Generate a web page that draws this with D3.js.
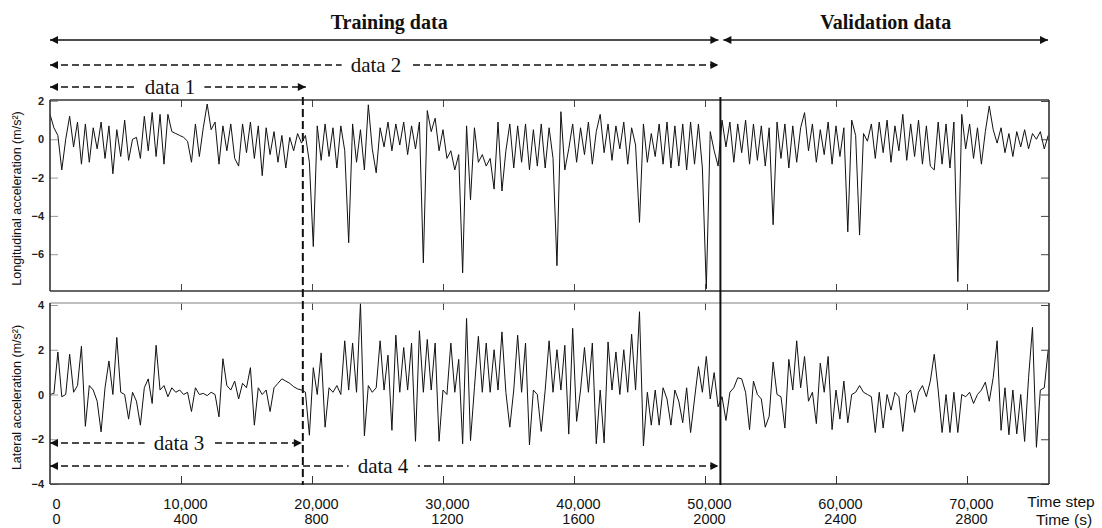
<!DOCTYPE html>
<html>
<head>
<meta charset="utf-8">
<script src="https://cdn.jsdelivr.net/npm/d3@7"></script>
<style>
  body { margin: 0; background: #fff; }
  svg { display: block; }
</style>
</head>
<body>
<div id="chart"></div>
<script>
var width = 1102, height = 528;

// sampling of the two signals (time steps between two values)
var sampleStep = 300;
var secondsPerStep = 0.04;

var stepDomain = [0, 76260];
var stepTicks = [0, 10000, 20000, 30000, 40000, 50000, 60000, 70000];
var longTicks = [2, 0, -2, -4, -6];
var latTicks = [4, 2, 0, -2, -4];

// split points (time step)
var splitData1 = 19300;
var splitTrain = 51100;

var segments = [
  { label: 'data 1', from: 0, to: splitData1 },
  { label: 'data 2', from: 0, to: splitTrain },
  { label: 'data 3', from: 0, to: splitData1 },
  { label: 'data 4', from: 0, to: splitTrain }
];

// longitudinal acceleration (m/s2), one value every sampleStep
var longAcc = [
  1.3, 0.6, 0.2, -1.6, 0.0, 1.2, -0.4, 0.9, -1.3, 0.8, -1.2, 0.6, -0.5, 0.9, -1.0,
  0.7, -1.8, 0.5, -0.9, 1.0, -1.1, 0.0, 0.1, -1.0, 1.2, -0.6, 1.4, -0.9, 1.3, -1.3,
  1.3, 0.4, 0.3, 0.2, 0.1, -0.1, -1.2, 0.8, -0.9, 0.6, 1.84, 0.5, 0.9, -1.3, 0.7,
  -0.6, 0.8, -1.0, -1.4, 0.8, -0.7, 0.9, -1.0, 0.7, -1.9, 0.6, -0.8, 0.4, -1.2, 0.2,
  -1.5, 0.1, -0.6, 0.3, -0.2, 0.2, -1.2, -5.6, 0.7, -1.1, 0.8, -0.9, 0.6, -1.5, 0.7,
  -0.6, -5.4, 0.8, -1.2, 0.5, -1.6, 1.8, -0.5, -1.75, 0.6, -0.4, 0.9, -0.6, 0.8, -0.3,
  0.9, -0.8, 0.7, -0.5, 0.9, -6.45, 1.5, 0.4, 1.1, -0.6, 0.5, -1.0, -0.6, -1.6, -0.8,
  -6.97, 0.7, -3.16, 0.6, -1.2, -0.8, -1.4, -1.0, -2.6, 0.9, -2.7, -0.6, 0.8, -1.5, 0.7,
  -1.2, 0.8, -1.6, 0.5, -1.4, 0.8, -1.5, 0.6, -1.0, -6.6, 1.44, -1.6, -0.5, 0.8, -1.2,
  0.6, -0.8, 0.9, -1.3, 0.4, 1.3, -0.7, 0.8, -1.1, 0.7, -0.5, 0.9, -1.3, 0.6, -0.3,
  -4.34, 0.8, -1.2, 0.3, -0.9, 0.8, -1.3, 0.9, -1.5, 0.7, -1.4, 0.8, -1.6, 0.9, -1.3,
  0.8, -1.5, -7.8, 0.4, -0.6, -1.4, 1.0, -0.4, 0.9, -1.2, 0.8, -0.7, 1.0, -1.3, 0.8,
  -1.1, 0.7, -1.4, 0.6, -4.46, 0.9, -1.0, 0.8, -1.5, 0.7, -1.2, 0.6, 1.39, -0.6, 0.8,
  -1.2, 0.5, -0.8, 0.9, -1.3, 0.7, -0.9, 0.6, -4.83, 1.0, 0.2, -5.0, 0.3, -0.1, 0.8,
  -1.0, 0.9, -0.7, 1.0, -1.2, 0.7, -0.6, 1.3, -1.1, 0.8, -0.9, 1.0, -1.3, 0.7, -1.4,
  -1.6, 0.9, -1.3, 0.8, -1.5, 0.9, -7.43, 1.3, -0.5, 0.8, -1.0, 0.6, -1.3, 0.4, 1.73,
  0.5, -0.2, 0.6, -0.7, 0.3, -0.9, 0.4, -0.4, 0.5, -0.5, 0.3, 0.0, 0.4, -0.5, 0.2
];

// lateral acceleration (m/s2), one value every sampleStep
var latAcc = [
  0.0, 0.05, 1.9, -0.1, 0.0, 1.8, 0.1, 0.4, 2.16, -1.42, 0.4, 0.2, -0.3, -1.67, 0.3,
  1.5, 0.0, 2.55, 0.1, 0.0, -1.1, 0.1, -0.3, -1.37, 0.3, 0.7, -0.4, 2.2, 0.2, 0.4,
  -0.1, 0.3, 0.1, 0.2, 0.0, 0.1, -0.76, 0.3, 0.0, 0.05, -0.05, 0.1, 0.0, -1.0, 1.6,
  0.4, 0.2, 0.6, -0.2, 0.5, 0.3, 1.2, -1.37, 0.3, 0.0, 0.2, -0.76, 0.3, 0.5, 0.7,
  0.6, 0.5, 0.35, 0.25, 0.2, 0.1, -1.82, 1.2, 0.0, 1.86, -1.46, 0.3, 0.1, 0.4, 0.0,
  2.4, 0.2, 2.3, 0.1, 4.08, -1.85, 0.4, 0.1, 0.3, 2.4, 0.2, 1.76, -1.6, 2.65, 0.1,
  2.1, 0.2, 2.3, -2.09, 2.85, 0.1, 2.46, 0.2, 2.3, -2.09, 0.2, 0.0, 2.3, 0.1, 1.57,
  -2.2, 3.4, -2.06, 0.3, 2.6, 0.1, 2.3, 0.1, 2.0, 0.2, 2.8, 0.1, -1.46, 0.2, 2.65,
  0.1, 2.3, -2.25, 0.2, 0.0, -1.65, 0.2, 2.4, 0.1, 2.0, 0.2, 2.2, -1.77, 2.96, -1.2,
  0.2, 2.1, 0.1, 2.3, -2.2, 0.2, -2.16, 2.35, 0.2, 1.9, 0.0, 2.0, 0.1, 2.7, 0.2,
  3.7, -2.3, 0.1, -1.37, 0.2, -1.37, 0.3, -0.2, -1.37, 0.2, -0.3, -1.26, 0.3, -1.7, -0.2,
  1.25, 0.1, 1.7, -0.2, 0.98, -0.55, -0.1, -1.16, 0.1, 0.3, 0.75, 0.7, 0.1, -1.57, 0.6,
  0.0, -0.2, -1.46, -0.97, 1.45, 0.0, -0.1, -1.5, 1.57, 0.2, 2.4, 0.3, 1.7, -0.3, 0.1,
  -1.3, 1.4, 0.1, 1.7, -1.57, 0.2, -1.1, 0.6, -1.26, 0.0, 0.1, 0.4, 0.1, 0.0, -0.1,
  -1.7, 0.1, -1.5, 0.0, -0.7, 0.1, -0.1, -1.65, 0.0, 0.2, -0.8, 0.1, 0.4, -0.1, 0.6,
  1.8, 0.2, -1.7, 0.0, -1.7, 0.1, -1.7, 0.0, -0.1, 0.1, -0.4, 0.0, 0.2, 0.55, -0.3,
  0.75, 2.4, -1.6, 0.3, -1.8, 0.2, -1.76, 0.0, -2.1, 0.75, 3.0, -2.36, 0.2, 0.3, 2.0
];

var sans = '"Liberation Sans", Arial, sans-serif';
var serif = '"Liberation Serif", "Times New Roman", serif';

var svg = d3.select("#chart")
  .append("svg")
  .attr("width", width)
  .attr("height", height);

var defs = svg.append("defs");

// arrow head marker
defs.append("marker")
  .attr("id", "head")
  .attr("viewBox", "0 0 10 10")
  .attr("refX", 10)
  .attr("refY", 5)
  .attr("markerUnits", "userSpaceOnUse")
  .attr("markerWidth", 10)
  .attr("markerHeight", 8)
  .attr("orient", "auto-start-reverse")
  .append("path")
  .attr("d", "M0,0L10,5L0,10z")
  .attr("fill", "#111");

// X scale
var xScale = d3.scaleLinear()
  .domain(stepDomain)
  .range([50, 1049]);

// Y scales
var yLong = d3.scaleLinear()
  .domain([-7.92, 2.05])
  .range([291, 100]);

var yLat = d3.scaleLinear()
  .domain([-4, 4.09])
  .range([484, 303]);

var panels = [
  { y: yLong, values: longAcc, ticks: longTicks, top: 100, bottom: 291,
    title: 'Longitudinal acceleration (m/s\u00b2)', topColor: '#333' },
  { y: yLat, values: latAcc, ticks: latTicks, top: 303, bottom: 484,
    title: 'Lateral acceleration (m/s\u00b2)', topColor: '#aaa' }
];

panels.forEach(function(p, k) {
  var g = svg.append("g").attr("class", "panel-" + k);

  // clip
  defs.append("clipPath")
    .attr("id", "clip-" + k)
    .append("rect")
    .attr("x", 50).attr("y", p.top)
    .attr("width", 999).attr("height", p.bottom - p.top);

  // signal
  var line = d3.line()
    .x(function(d, i) { return xScale(i * sampleStep) })
    .y(function(d) { return p.y(d) });

  g.append("path")
    .datum(p.values)
    .attr("clip-path", "url(#clip-" + k + ")")
    .attr("d", line)
    .attr("fill", "none")
    .attr("stroke", "#111")
    .attr("stroke-width", 1)
    .attr("stroke-linejoin", "round");

  // top inward ticks
  g.append("g")
    .attr("transform", `translate(0,${p.top})`)
    .call(d3.axisTop(xScale).tickValues(stepTicks.slice(1)).tickSize(-7).tickFormat(""))
    .call(s => s.select(".domain").remove())
    .selectAll("line").attr("stroke", "#444");

  // bottom inward ticks
  if (k === 0) {
    g.append("g")
      .attr("transform", `translate(0,${p.bottom})`)
      .call(d3.axisBottom(xScale).tickValues(stepTicks.slice(1)).tickSize(-7).tickFormat(""))
      .call(s => s.select(".domain").remove())
      .selectAll("line").attr("stroke", "#444");
  }

  // Y axis left
  g.append("g")
    .attr("transform", "translate(50,0)")
    .call(d3.axisLeft(p.y).tickValues(p.ticks).tickSize(-8).tickPadding(6))
    .call(s => s.select(".domain").remove())
    .call(s => s.selectAll("line").attr("stroke", "#999"))
    .selectAll("text")
    .attr("font-family", sans)
    .attr("font-size", 11)
    .attr("font-weight", "bold")
    .attr("fill", "#222");

  // Y axis right
  g.append("g")
    .attr("transform", "translate(1049,0)")
    .call(d3.axisRight(p.y).tickValues(p.ticks).tickSize(-8).tickFormat(""))
    .call(s => s.select(".domain").remove())
    .selectAll("line").attr("stroke", "#444");

  // frame
  g.append("line")
    .attr("x1", 50).attr("x2", 1049).attr("y1", p.top).attr("y2", p.top)
    .attr("stroke", p.topColor).attr("stroke-width", 1.6);
  g.append("line")
    .attr("x1", 50).attr("x2", 1049).attr("y1", p.bottom).attr("y2", p.bottom)
    .attr("stroke", "#333").attr("stroke-width", 1.6);
  g.append("line")
    .attr("x1", 50).attr("x2", 50).attr("y1", p.top).attr("y2", p.bottom)
    .attr("stroke", "#333").attr("stroke-width", 1.6);
  g.append("line")
    .attr("x1", 1049).attr("x2", 1049).attr("y1", p.top).attr("y2", p.bottom)
    .attr("stroke", "#333").attr("stroke-width", 1.6);

  // Y title
  g.append("text")
    .attr("transform", `translate(21,${(p.top + p.bottom) / 2 + (k === 0 ? 3 : 4)}) rotate(-90)`)
    .attr("text-anchor", "middle")
    .attr("font-family", sans)
    .attr("font-size", 12.5)
    .attr("fill", "#111")
    .text(p.title);
});

// Render X axis (time steps + seconds)
var xAxis = svg.append("g")
  .attr("transform", "translate(0,484)")
  .call(d3.axisBottom(xScale).tickValues(stepTicks).tickSize(-8).tickPadding(15)
    .tickFormat(d3.format(",")))
  .call(s => s.select(".domain").remove());

xAxis.selectAll(".tick line").attr("stroke", "#333");
xAxis.selectAll(".tick line").filter(d => d === 0).remove();
xAxis.selectAll(".tick text")
  .attr("dx", d => d === 0 ? 6 : 4)
  .attr("font-family", sans)
  .attr("font-size", 14.5)
  .attr("fill", "#111");

xAxis.selectAll(".tick")
  .append("text")
  .attr("dx", d => d === 0 ? 6 : 4)
  .attr("y", 40)
  .attr("text-anchor", "middle")
  .attr("font-family", sans)
  .attr("font-size", 14.5)
  .attr("fill", "#111")
  .text(d => Math.round(d * secondsPerStep));

svg.append("text")
  .attr("x", 1061).attr("y", 507)
  .attr("text-anchor", "middle")
  .attr("font-family", sans)
  .attr("font-size", 15.5)
  .attr("fill", "#111")
  .text("Time step");

svg.append("text")
  .attr("x", 1064).attr("y", 525)
  .attr("text-anchor", "middle")
  .attr("font-family", sans)
  .attr("font-size", 15.5)
  .attr("fill", "#111")
  .text("Time (s)");

// split lines
svg.append("line")
  .attr("x1", xScale(splitData1)).attr("x2", xScale(splitData1))
  .attr("y1", 97).attr("y2", 485)
  .attr("stroke", "#111")
  .attr("stroke-width", 2)
  .attr("stroke-dasharray", "8,4");

svg.append("line")
  .attr("x1", xScale(splitTrain) + 1).attr("x2", xScale(splitTrain) + 1)
  .attr("y1", 97).attr("y2", 485)
  .attr("stroke", "#111")
  .attr("stroke-width", 2);

// Training / validation arrows
var headers = [
  { label: 'Training data', from: 0, to: splitTrain, dx0: 0, dx1: -1 },
  { label: 'Validation data', from: splitTrain, to: stepDomain[1], dx0: 4, dx1: -1 }
];

headers.forEach(function(h) {
  var x0 = xScale(h.from) + h.dx0, x1 = xScale(h.to) + h.dx1;
  svg.append("line")
    .attr("x1", x0).attr("x2", x1).attr("y1", 40).attr("y2", 40)
    .attr("stroke", "#111").attr("stroke-width", 1.5)
    .attr("marker-start", "url(#head)")
    .attr("marker-end", "url(#head)");
  svg.append("text")
    .attr("x", (x0 + x1) / 2 + (h.label === 'Training data' ? 5 : 0))
    .attr("y", 29)
    .attr("text-anchor", "middle")
    .attr("font-family", serif)
    .attr("font-weight", "bold")
    .attr("font-size", 20)
    .attr("fill", "#111")
    .text(h.label);
});

// dashed data segments
var segY = { 'data 1': 87, 'data 2': 65, 'data 3': 443, 'data 4': 466 };
var segTextX = { 'data 1': 170, 'data 2': 376, 'data 3': 179, 'data 4': 383 };

segments.forEach(function(s) {
  var y = segY[s.label];
  var x1 = xScale(s.to) + (s.label === 'data 1' ? 3 : -1);
  var sg = svg.append("g").attr("class", "segment");

  sg.append("line")
    .attr("x1", xScale(s.from)).attr("x2", x1)
    .attr("y1", y).attr("y2", y)
    .attr("stroke", "#111").attr("stroke-width", 1.5)
    .attr("stroke-dasharray", "7,4")
    .attr("marker-start", "url(#head)")
    .attr("marker-end", "url(#head)");

  var gap = sg.append("rect").attr("fill", "#fff");

  var t = sg.append("text")
    .attr("x", segTextX[s.label])
    .attr("y", y + 7)
    .attr("text-anchor", "middle")
    .attr("font-family", serif)
    .attr("font-size", 21)
    .attr("fill", "#111")
    .text(s.label);

  var bb = t.node().getBBox();
  gap.attr("x", bb.x - 9).attr("y", y - 3)
    .attr("width", bb.width + 18).attr("height", 6);
});
</script>
</body>
</html>
